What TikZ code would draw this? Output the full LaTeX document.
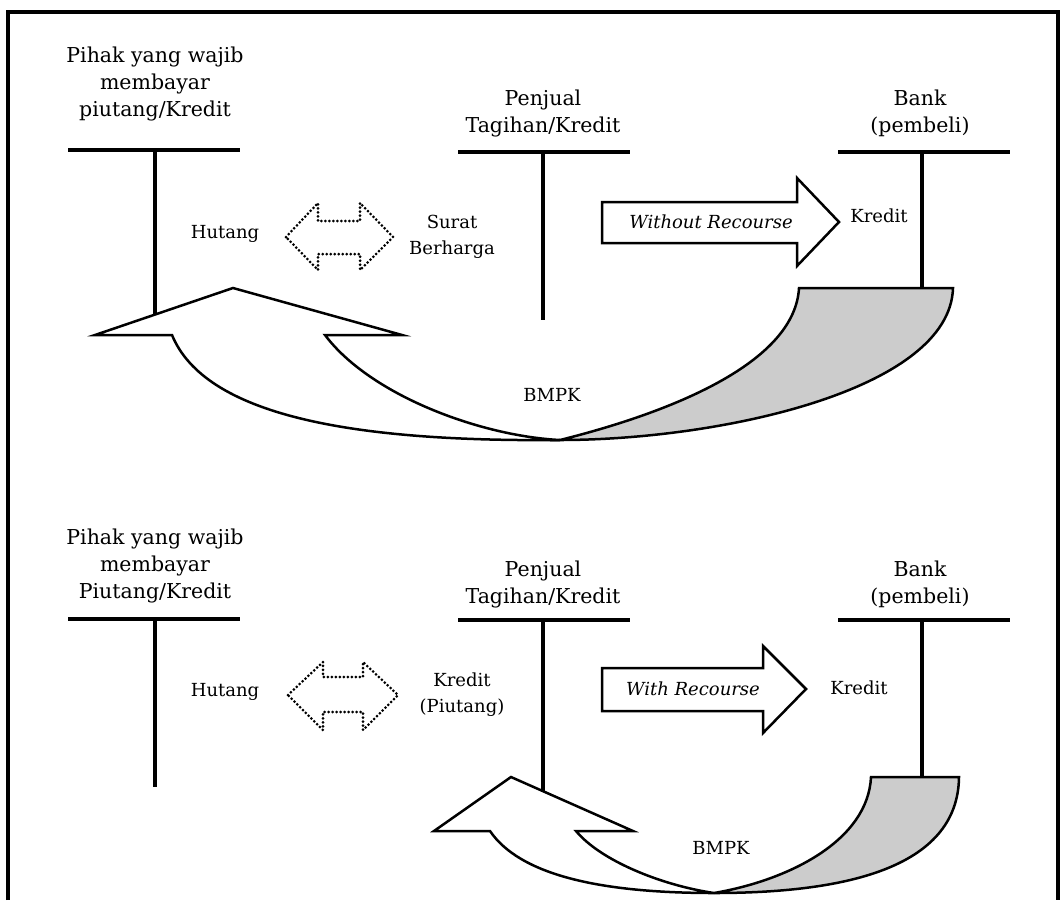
\documentclass[tikz,border=0pt]{standalone}
\usepackage{fontspec}
\setmainfont{DejaVu Serif}
\begin{document}
\begin{tikzpicture}[x=1pt,y=-1pt,
  head/.style={font=\fontsize{20.5}{27}\selectfont, align=center, inner sep=0pt},
  lbl/.style={font=\fontsize{18}{26}\selectfont, align=center, inner sep=0pt},
  ital/.style={lbl, font=\fontsize{18}{26}\selectfont\itshape},
  bar/.style={line width=4.5pt},
  post/.style={line width=3.5pt},
  outline/.style={line width=2.5pt, line join=miter},
  dotarrow/.style={dash pattern=on 0pt off 4pt, line width=3pt, line cap=round},
  crescent/.style={outline, fill=gray!40},
]
\useasboundingbox (0,0) rectangle (1064,900);
\fill[white] (0,0) rectangle (1064,900);
% frame
\draw[line width=3.2pt] (8,900) -- (8,12) -- (1058,12) -- (1058,900);

% ---------------- without recourse ----------------
\node[head] (payerA)  at (155,84)  {Pihak yang wajib\\membayar\\piutang/Kredit};
\node[head] (sellerA) at (543,113) {Penjual\\Tagihan/Kredit};
\node[head] (bankA)   at (920,113) {Bank\\(pembeli)};

\coordinate (payerAl) at (68,150);  \coordinate (payerAr) at (240,150);
\coordinate (payerAt) at (155,150); \coordinate (payerAb) at (155,320);
\coordinate (sellerAl) at (458,152); \coordinate (sellerAr) at (630,152);
\coordinate (sellerAt) at (543,152); \coordinate (sellerAb) at (543,320);
\coordinate (bankAl) at (838,152); \coordinate (bankAr) at (1010,152);
\coordinate (bankAt) at (922,152); \coordinate (bankAb) at (922,290);

\draw[bar] (payerAl) -- (payerAr);   \draw[post] (payerAt) -- (payerAb);
\draw[bar] (sellerAl) -- (sellerAr); \draw[post] (sellerAt) -- (sellerAb);
\draw[bar] (bankAl) -- (bankAr);     \draw[post] (bankAt) -- (bankAb);

\node[lbl] (debtA) at (225,234) {Hutang};
\node[lbl] (secA)  at (452,237) {Surat\\Berharga};
\draw[dotarrow] (286,237) -- (318,203) -- (318,221) -- (360,221) -- (360,203)
  -- (393,237) -- (360,270) -- (360,254) -- (318,254) -- (318,270) -- cycle;

\draw[outline, fill=white] (602,202) -- (797,202) -- (797,178) -- (839,222)
  -- (797,266) -- (797,243) -- (602,243) -- cycle;
\node[ital] (noRec) at (711,222) {Without Recourse};
\node[lbl] (credA) at (879,216) {Kredit};

\draw[outline, fill=white] (325,335) -- (402,335) -- (233,288) -- (95,335) -- (172,335)
  .. controls (205,415) and (350,442) .. (560,440)
  .. controls (480,436) and (370,395) .. (325,335) -- cycle;
\draw[crescent] (799,288) -- (953,288)
  .. controls (950,390) and (720,440) .. (560,440)
  .. controls (680,410) and (795,360) .. (799,288) -- cycle;
\node[lbl] (bmpkA) at (552,395) {BMPK};

% ---------------- with recourse ----------------
\node[head] (payerB)  at (155,566) {Pihak yang wajib\\membayar\\Piutang/Kredit};
\node[head] (sellerB) at (543,584) {Penjual\\Tagihan/Kredit};
\node[head] (bankB)   at (920,584) {Bank\\(pembeli)};

\coordinate (payerBl) at (68,619);  \coordinate (payerBr) at (240,619);
\coordinate (payerBt) at (155,619); \coordinate (payerBb) at (155,787);
\coordinate (sellerBl) at (458,620); \coordinate (sellerBr) at (630,620);
\coordinate (sellerBt) at (543,620); \coordinate (sellerBb) at (543,795);
\coordinate (bankBl) at (838,620); \coordinate (bankBr) at (1010,620);
\coordinate (bankBt) at (922,620); \coordinate (bankBb) at (922,779);

\draw[bar] (payerBl) -- (payerBr);   \draw[post] (payerBt) -- (payerBb);
\draw[bar] (sellerBl) -- (sellerBr); \draw[post] (sellerBt) -- (sellerBb);
\draw[bar] (bankBl) -- (bankBr);     \draw[post] (bankBt) -- (bankBb);

\node[lbl] (debtB) at (225,692) {Hutang};
\node[lbl] (credB1) at (462,695) {Kredit\\(Piutang)};
\draw[dotarrow] (288,695) -- (323,662) -- (323,677) -- (363,677) -- (363,662)
  -- (398,695) -- (363,730) -- (363,712) -- (323,712) -- (323,730) -- cycle;

\draw[outline, fill=white] (602,668) -- (763,668) -- (763,646) -- (806,689)
  -- (763,733) -- (763,711) -- (602,711) -- cycle;
\node[ital] (withRec) at (693,689) {With Recourse};
\node[lbl] (credB) at (859,688) {Kredit};

\draw[outline, fill=white] (576,831) -- (633,831) -- (511,777) -- (434,831) -- (490,831)
  .. controls (520,875) and (600,893) .. (714,893)
  .. controls (660,885) and (600,860) .. (576,831) -- cycle;
\draw[crescent] (871,777) -- (959,777)
  .. controls (958,870) and (840,893) .. (714,893)
  .. controls (790,880) and (868,840) .. (871,777) -- cycle;
\node[lbl] (bmpkB) at (721,848) {BMPK};
\end{tikzpicture}
\end{document}
